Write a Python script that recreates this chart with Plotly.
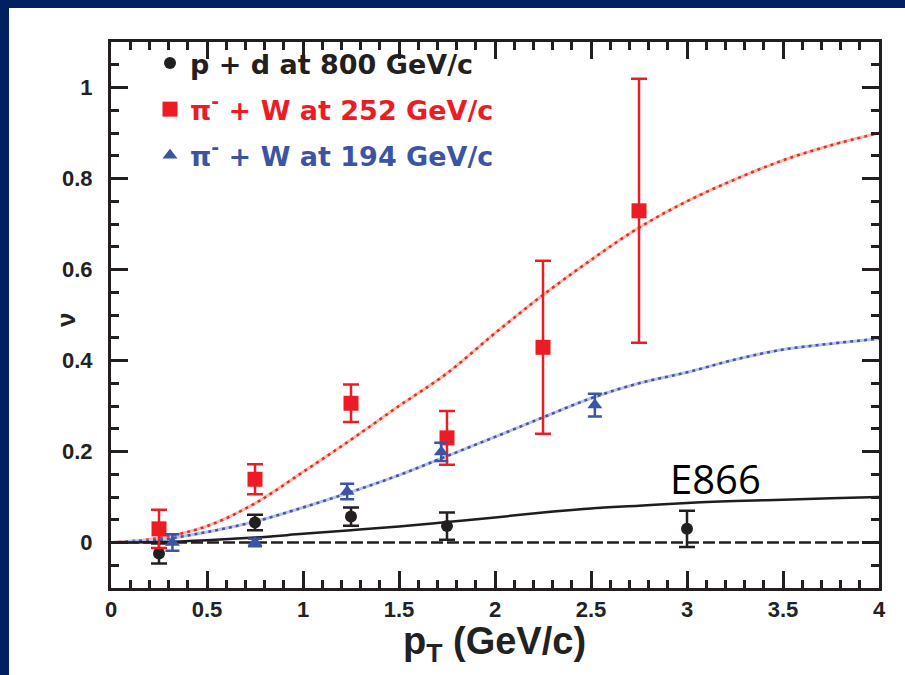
import plotly.graph_objects as go

# ---------------- data ----------------
pt_pd = [0.25, 0.75, 1.25, 1.75, 3.0]
nu_pd = [-0.024, 0.044, 0.057, 0.036, 0.030]
err_pd = [0.022, 0.017, 0.020, 0.030, 0.040]

pt_252 = [0.25, 0.75, 1.25, 1.75, 2.25, 2.75]
nu_252 = [0.030, 0.139, 0.306, 0.230, 0.429, 0.729]
err_252 = [0.042, 0.033, 0.041, 0.059, 0.190, 0.290]

pt_194 = [0.32, 0.75, 1.23, 1.72, 2.52]
nu_194 = [0.000, 0.000, 0.112, 0.199, 0.302]
err_194 = [0.018, 0.008, 0.017, 0.020, 0.025]

pt_fit = [0.0, 0.25, 0.5, 0.75, 1.0, 1.25, 1.5, 1.75, 2.0, 2.25, 2.5, 2.75,
          3.0, 3.25, 3.5, 3.75, 4.0]
fit_252 = [0.0, 0.010, 0.036, 0.086, 0.155, 0.226, 0.300, 0.372, 0.460, 0.544,
           0.621, 0.692, 0.750, 0.798, 0.840, 0.873, 0.900]
fit_194 = [0.0, 0.006, 0.023, 0.046, 0.077, 0.111, 0.148, 0.190, 0.232, 0.275,
           0.317, 0.350, 0.374, 0.402, 0.424, 0.437, 0.448]
fit_e866 = [0.0, 0.001, 0.005, 0.011, 0.019, 0.027, 0.035, 0.045, 0.055, 0.066,
            0.075, 0.081, 0.087, 0.091, 0.094, 0.097, 0.100]

label_pd = "p + d at 800 GeV/c"
label_252 = "π<sup>-</sup> + W at 252 GeV/c"
label_194 = "π<sup>-</sup> + W at 194 GeV/c"
x_title = "p<sub>T</sub> (GeV/c)"
y_title = "ν"
fit_label = "E866"

# ---------------- styling ----------------
W, H = 905, 675
L, R, T, B = 111, 879, 42, 588
NAVY = "#002060"
BLACK = "#231f20"
RED = "#ed1c24"
BLUE = "#3b54a4"


def px_x(p):
    return (p - L) / (R - L)


def px_y(p):
    return (B - p) / (B - T)


fig = go.Figure()

# fit curves: pale underlay + dotted core
fig.add_trace(go.Scatter(x=pt_fit, y=fit_252, mode="lines", line_shape="spline",
                         line=dict(color="#f7b9ad", width=3), showlegend=False, hoverinfo="skip"))
fig.add_trace(go.Scatter(x=pt_fit, y=fit_252, mode="lines", line_shape="spline",
                         line=dict(color="#ea2a22", width=2.5, dash="3px,4px"), showlegend=False, hoverinfo="skip"))
fig.add_trace(go.Scatter(x=pt_fit, y=fit_194, mode="lines", line_shape="spline",
                         line=dict(color="#bcc3e6", width=3), showlegend=False, hoverinfo="skip"))
fig.add_trace(go.Scatter(x=pt_fit, y=fit_194, mode="lines", line_shape="spline",
                         line=dict(color="#4053ad", width=2.5, dash="3px,4px"), showlegend=False, hoverinfo="skip"))
fig.add_trace(go.Scatter(x=pt_fit, y=fit_e866, mode="lines", line_shape="spline",
                         line=dict(color="#1e1e1e", width=2.5), showlegend=False, hoverinfo="skip"))

# data points
fig.add_trace(go.Scatter(
    x=pt_pd, y=nu_pd, mode="markers", name="<b>" + label_pd + "</b>", legendgroup="a",
    marker=dict(symbol="circle", size=12, color=BLACK),
    error_y=dict(type="data", array=err_pd, color=BLACK, thickness=2.5, width=8)))
fig.add_trace(go.Scatter(
    x=pt_252, y=nu_252, mode="markers",
    name="<span style='color:%s'><b>%s</b></span>" % (RED, label_252), legendgroup="b",
    marker=dict(symbol="square", size=15, color=RED),
    error_y=dict(type="data", array=err_252, color=RED, thickness=2.5, width=8)))
fig.add_trace(go.Scatter(
    x=pt_194, y=nu_194, mode="markers",
    name="<span style='color:%s'><b>%s</b></span>" % (BLUE, label_194), legendgroup="c",
    marker=dict(symbol="triangle-up", size=13, color=BLUE),
    error_y=dict(type="data", array=err_194, color=BLUE, thickness=2.5, width=7)))

axis_common = dict(
    showline=True, linewidth=3, linecolor=BLACK, mirror="ticks",
    ticks="inside", ticklen=17, tickwidth=2.5, tickcolor=BLACK,
    showgrid=False, zeroline=False,
    tickfont=dict(family="Liberation Sans, Arial", size=22, color="#222222", weight="bold"),
)

fig.update_xaxes(range=[0, 4], dtick=0.5, tick0=0, ticklabelstandoff=0,
                 minor=dict(dtick=0.1, ticks="inside", ticklen=8, tickwidth=2.5, tickcolor=BLACK),
                 **axis_common)
fig.update_yaxes(range=[-0.1, 1.1], dtick=0.2, tick0=0, ticksuffix="\u2002",
                 minor=dict(dtick=0.05, ticks="inside", ticklen=8, tickwidth=2.5, tickcolor=BLACK),
                 **axis_common)

fig.update_layout(
    width=W, height=H,
    margin=dict(l=L, r=W - R, t=T, b=H - B, pad=0),
    paper_bgcolor=NAVY, plot_bgcolor="white",
    showlegend=True,
    legend=dict(x=px_x(150), y=px_y(39), xanchor="left", yanchor="top",
                bgcolor="rgba(0,0,0,0)", borderwidth=0, tracegroupgap=8,
                font=dict(family="DejaVu Sans", size=27, color=BLACK),
                itemsizing="trace"),
    shapes=[
        dict(type="rect", xref="paper", yref="paper", layer="below",
             x0=px_x(9), x1=px_x(W + 5), y0=px_y(8), y1=px_y(H + 5),
             fillcolor="white", line=dict(width=0)),
        dict(type="line", xref="paper", yref="y", layer="below",
             x0=0, x1=1, y0=0, y1=0,
             line=dict(color=BLACK, width=2.5, dash="12px,4px")),
    ],
    annotations=[
        dict(text=fit_label, x=3.15, y=0.14, xref="x", yref="y",
             xanchor="center", yanchor="middle", showarrow=False,
             font=dict(family="Open Sans", size=40, color="black")),
        dict(text="<b>" + x_title + "</b>", x=px_x(494), y=px_y(644),
             xref="paper", yref="paper", xanchor="center", yanchor="middle",
             showarrow=False,
             font=dict(family="Liberation Sans, Arial", size=38, color="#222222")),
        dict(text="<b>" + y_title + "</b>", x=px_x(66), y=px_y(320),
             xref="paper", yref="paper", xanchor="center", yanchor="middle",
             textangle=-90, showarrow=False,
             font=dict(family="Liberation Sans, Arial", size=26, color="#222222")),
    ],
)

fig.write_html("out.html", config={"displayModeBar": False},
               post_script="document.body.style.margin='0';document.body.style.overflow='hidden';")
